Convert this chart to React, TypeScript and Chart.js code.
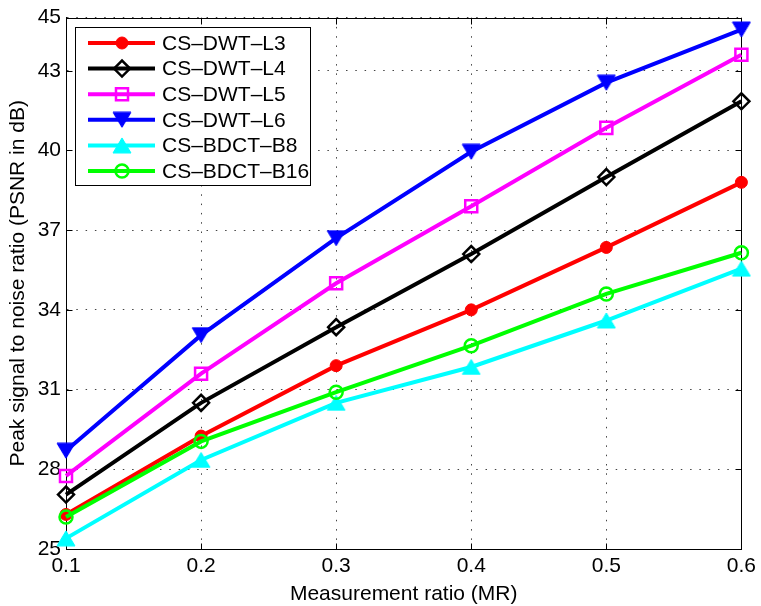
import React, { useEffect, useRef } from "react";
import { Chart, registerables } from "chart.js";
import { drawPoint } from "chart.js/helpers";

Chart.register(...registerables);

// ---- data ----
const mrValues = [0.1, 0.2, 0.3, 0.4, 0.5, 0.6];
const xTickValues = [0.1, 0.2, 0.3, 0.4, 0.5, 0.6];
const yTickValues = [25, 28, 31, 34, 37, 40, 43, 45];

const csDwtL3 = [26.3, 29.25, 31.9, 34.0, 36.35, 38.8];
const csDwtL4 = [27.05, 30.5, 33.35, 36.1, 39.0, 41.85];
const csDwtL5 = [27.75, 31.6, 35.0, 37.9, 40.85, 43.6];
const csDwtL6 = [28.7, 33.05, 36.7, 39.95, 42.55, 44.55];
const csBdctB8 = [25.4, 28.35, 30.5, 31.85, 33.6, 35.55];
const csBdctB16 = [26.2, 29.05, 30.9, 32.65, 34.6, 36.15];

const seriesNames = ["CS–DWT–L3", "CS–DWT–L4", "CS–DWT–L5", "CS–DWT–L6", "CS–BDCT–B8", "CS–BDCT–B16"];
const seriesValues = [csDwtL3, csDwtL4, csDwtL5, csDwtL6, csBdctB8, csBdctB16];

const xTitle = "Measurement ratio (MR)";
const yTitle = "Peak signal to noise ratio (PSNR in dB)";

// ---- styles ----
const FONT = "'Liberation Sans', Arial, Helvetica, sans-serif";

function makeTriangle(color: string, down: boolean): HTMLCanvasElement {
  const w = 20, h = 17;
  const c = document.createElement("canvas");
  c.width = w;
  c.height = h;
  const g = c.getContext("2d")!;
  g.fillStyle = color;
  g.strokeStyle = color;
  g.lineWidth = 1;
  g.beginPath();
  if (down) {
    g.moveTo(1, 1);
    g.lineTo(w - 1, 1);
    g.lineTo(w / 2, h - 1);
  } else {
    g.moveTo(1, h - 1);
    g.lineTo(w - 1, h - 1);
    g.lineTo(w / 2, 1);
  }
  g.closePath();
  g.fill();
  g.stroke();
  return c;
}

const frameAndTicks = {
  id: "frameAndTicks",
  beforeDatasetsDraw(chart: any) {
    const { ctx, chartArea } = chart;
    const { left, right, top, bottom } = chartArea;
    const xs = chart.scales.x;
    const ys = chart.scales.y;
    const tl = 6;
    ctx.save();
    ctx.strokeStyle = "#000";
    ctx.lineWidth = 1;
    ctx.setLineDash([]);
    ctx.beginPath();
    const L = Math.round(left) + 0.5;
    const R = Math.round(right) + 0.5;
    const T = Math.round(top) + 0.5;
    const B = Math.round(bottom) + 0.5;
    ctx.moveTo(L, T);
    ctx.lineTo(R, T);
    ctx.lineTo(R, B);
    ctx.lineTo(L, B);
    ctx.closePath();
    xTickValues.forEach((v) => {
      const px = Math.round(xs.getPixelForValue(v)) + 0.5;
      ctx.moveTo(px, B);
      ctx.lineTo(px, B - tl);
      ctx.moveTo(px, T);
      ctx.lineTo(px, T + tl);
    });
    yTickValues.forEach((v) => {
      const py = Math.round(ys.getPixelForValue(v)) + 0.5;
      ctx.moveTo(L, py);
      ctx.lineTo(L + tl, py);
      ctx.moveTo(R, py);
      ctx.lineTo(R - tl, py);
    });
    ctx.stroke();
    ctx.restore();
  },
};

export default function App() {
  const canvasRef = useRef<HTMLCanvasElement | null>(null);

  useEffect(() => {
    if (!canvasRef.current) return;

    const seriesStyles: any[] = [
      { color: "#ff0000", pointStyle: "circle", radius: 6, filled: true },
      { color: "#000000", pointStyle: "rectRot", radius: 8, filled: false },
      { color: "#ff00ff", pointStyle: "rect", radius: 8.5, filled: false },
      { color: "#0000ff", pointStyle: makeTriangle("#0000ff", true), radius: 10, filled: true },
      { color: "#00ffff", pointStyle: makeTriangle("#00ffff", false), radius: 10, filled: true },
      { color: "#00ff00", pointStyle: "circle", radius: 6.5, filled: false },
    ];

    const legendBox = {
      id: "legendBox",
      afterDraw(chart: any) {
        const { ctx } = chart;
        const bx = 75.5, by = 27.5, bw = 235, bh = 158;
        ctx.save();
        ctx.fillStyle = "#fff";
        ctx.fillRect(bx, by, bw, bh);
        ctx.strokeStyle = "#000";
        ctx.lineWidth = 1;
        ctx.strokeRect(bx, by, bw, bh);
        const rowY0 = 43;
        const rowStep = 25.6;
        seriesNames.forEach((name, i) => {
          const st = seriesStyles[i];
          const y = rowY0 + i * rowStep;
          ctx.strokeStyle = st.color;
          ctx.lineWidth = 4;
          ctx.beginPath();
          ctx.moveTo(88, y);
          ctx.lineTo(155, y);
          ctx.stroke();
          ctx.fillStyle = st.filled ? st.color : "rgba(0,0,0,0)";
          ctx.strokeStyle = st.color;
          ctx.lineWidth = st.filled ? 1 : 2.5;
          drawPoint(ctx, { pointStyle: st.pointStyle, rotation: 0, radius: st.radius, borderWidth: st.filled ? 1 : 2.5 } as any, 122, y);
          ctx.fillStyle = "#000";
          ctx.font = `21px ${FONT}`;
          ctx.textBaseline = "middle";
          ctx.textAlign = "left";
          ctx.fillText(name, 162, y + 1);
        });
        ctx.restore();
      },
    };

    const datasets = seriesNames.map((name, i) => {
      const st = seriesStyles[i];
      return {
        label: name,
        data: mrValues.map((x, j) => ({ x, y: seriesValues[i][j] })),
        borderColor: st.color,
        backgroundColor: st.color,
        borderWidth: 4,
        pointStyle: st.pointStyle,
        pointRadius: st.radius,
        pointBackgroundColor: st.filled ? st.color : "rgba(0,0,0,0)",
        pointBorderColor: st.color,
        pointBorderWidth: st.filled ? 1 : 2.5,
        tension: 0,
        clip: false as any,
        order: seriesNames.length - i,
      };
    });

    const chart = new Chart(canvasRef.current, {
      type: "line",
      data: { datasets: datasets as any },
      plugins: [frameAndTicks, legendBox],
      options: {
        animation: false,
        responsive: false,
        devicePixelRatio: 1,
        layout: { padding: { top: 15, right: 16, left: 0, bottom: 0 } },
        plugins: {
          legend: { display: false },
          tooltip: { enabled: false },
        },
        scales: {
          x: {
            type: "linear",
            min: 0.1,
            max: 0.6,
            afterBuildTicks: (s: any) => {
              s.ticks = xTickValues.map((v) => ({ value: v }));
            },
            afterFit: (s: any) => {
              s.height = 57;
            },
            ticks: {
              color: "#000",
              font: { family: FONT, size: 21 },
              padding: 5,
              maxRotation: 0,
              autoSkip: false,
              callback: (v: any) => Number(v).toFixed(1),
            },
            grid: {
              color: "#444",
              lineWidth: 1,
              drawTicks: false,
            },
            border: { display: true, color: "#000", width: 1, dash: [1.5, 7.8] },
            title: {
              display: true,
              text: xTitle,
              color: "#000",
              font: { family: FONT, size: 21, lineHeight: 1 },
              padding: { top: 0, bottom: 1 },
            },
          },
          y: {
            type: "linear",
            min: 25,
            max: 45,
            afterBuildTicks: (s: any) => {
              s.ticks = yTickValues.map((v) => ({ value: v }));
            },
            afterFit: (s: any) => {
              s.width = 66;
            },
            ticks: {
              color: "#000",
              font: { family: FONT, size: 21 },
              padding: 5,
              autoSkip: false,
              callback: (v: any) => String(v),
            },
            grid: {
              color: "#444",
              lineWidth: 1,
              drawTicks: false,
            },
            border: { display: true, color: "#000", width: 1, dash: [1.5, 7.8] },
            title: {
              display: true,
              text: yTitle,
              color: "#000",
              font: { family: FONT, size: 21, lineHeight: 1 },
              padding: { top: 8, bottom: 0 },
            },
          },
        },
      } as any,
    });
    return () => chart.destroy();
  }, []);

  return (
    <div style={{ position: "absolute", left: 0, top: 0, width: 761, height: 606, background: "#fff" }}>
      <canvas ref={canvasRef} width={761} height={606} style={{ width: 761, height: 606, display: "block" }} />
    </div>
  );
}
